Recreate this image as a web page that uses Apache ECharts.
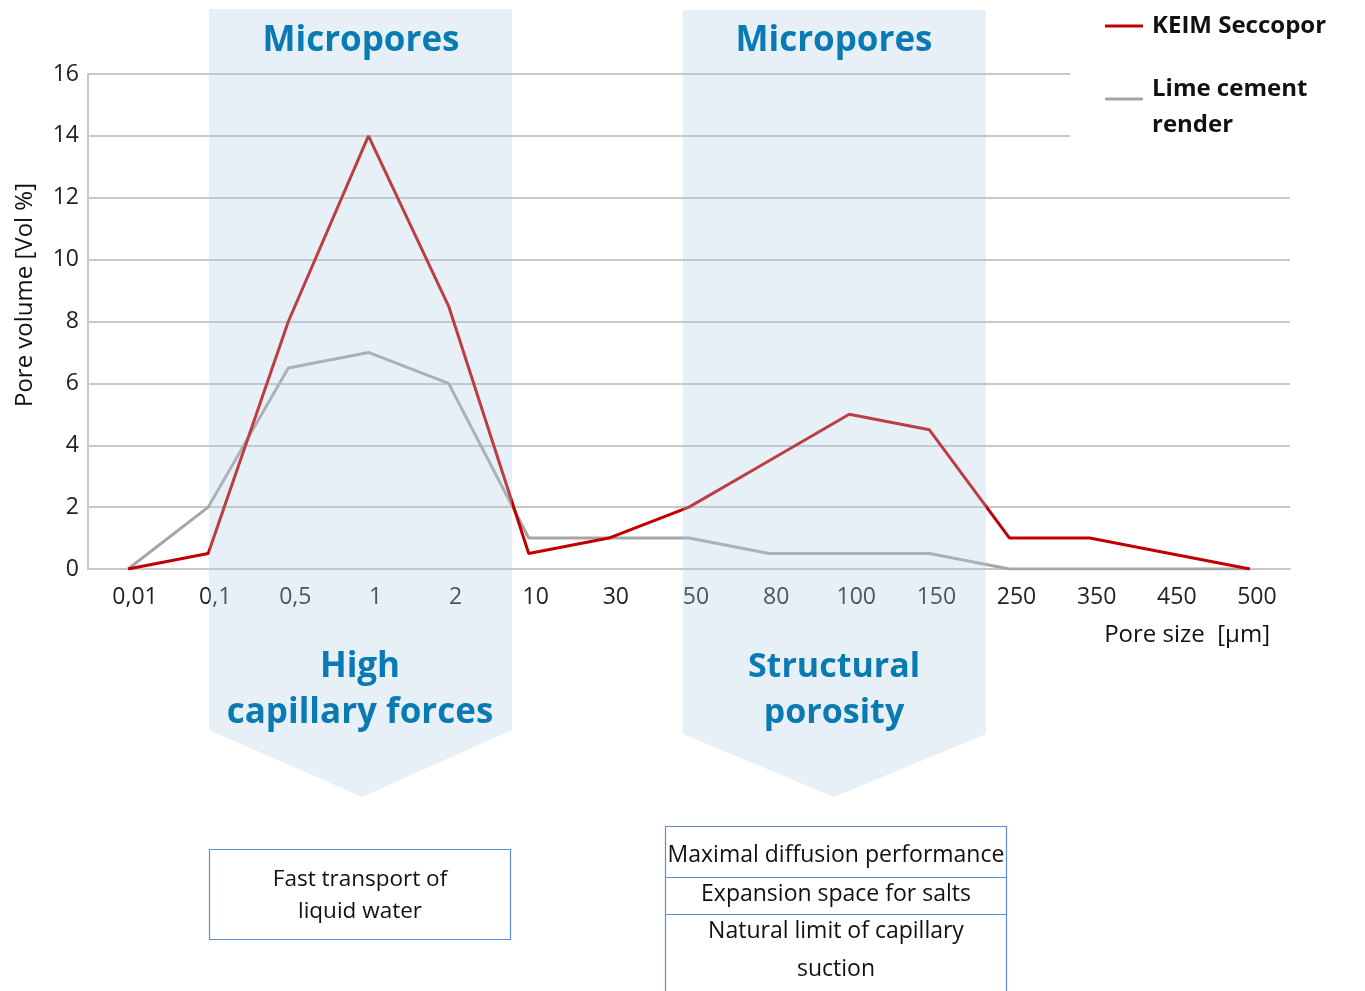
<!DOCTYPE html>
<html>
<head>
<meta charset="utf-8">
<script src="https://cdn.jsdelivr.net/npm/echarts@6/dist/echarts.min.js"></script>
<style>
html,body{margin:0;padding:0;background:#fff;}
#main{width:1365px;height:991px;}
</style>
</head>
<body>
<div id="main"></div>
<script>
const categories = ['0,01','0,1','0,5','1','2','10','30','50','80','100','150','250','350','450','500'];
const keimSeccopor = [0, 0.5, 8, 14, 8.5, 0.5, 1, 2, 3.5, 5, 4.5, 1, 1, 0.5, 0];
const limeCement = [0, 2, 6.5, 7, 6, 1, 1, 1, 0.5, 0.5, 0.5, 0, 0, 0, 0];
const yTicks = [0, 2, 4, 6, 8, 10, 12, 14, 16];

const FONT = '"Open Sans", "Noto Sans", sans-serif';
const BLUE = '#0a7ab3';
const SHADE = 'rgba(180,205,230,0.30)';

const chart = echarts.init(document.getElementById('main'));
chart.setOption({
  backgroundColor: '#fff',
  animation: false,
  textStyle: { fontFamily: FONT },
  grid: { left: 88, right: 75, top: 74, bottom: 422, containLabel: false, outerBoundsMode: 'none' },
  legend: {
    orient: 'vertical',
    left: 1105,
    top: 8,
    padding: 0,
    z: 60,
    icon: 'rect',
    itemWidth: 38,
    itemHeight: 3,
    itemGap: 11,
    data: ['KEIM Seccopor', 'Lime cement render'],
    formatter: function (n) {
      return n === 'Lime cement render' ? '{s| }\n{a|Lime cement}\n{a|render}' : '{a|' + n + '}';
    },
    textStyle: {
      fontFamily: FONT, fontSize: 24, fontWeight: 'bold', color: '#111', lineHeight: 36, padding: [0, 0, 0, 4],
      rich: {
        a: { fontFamily: FONT, fontSize: 24, fontWeight: 'bold', color: '#111', lineHeight: 36 },
        s: { fontSize: 4, lineHeight: 16 }
      }
    }
  },
  xAxis: {
    type: 'category',
    data: categories,
    boundaryGap: true,
    name: 'Pore size  [μm]',
    nameLocation: 'end',
    nameGap: 0,
    nameTextStyle: { fontFamily: FONT, fontSize: 24, color: '#111', align: 'right', verticalAlign: 'top', padding: [54, 20, 0, 0] },
    axisLine: { show: true, lineStyle: { color: '#c8c8c8', width: 2 } },
    axisTick: { show: false },
    axisLabel: { fontFamily: FONT, fontSize: 23, color: '#222', margin: 17, padding: [0, 0, 0, 14] },
    splitLine: { show: false }
  },
  yAxis: {
    type: 'value',
    min: 0,
    max: 16,
    interval: 2,
    axisLine: { show: true, lineStyle: { color: '#c8c8c8', width: 2 } },
    axisTick: { show: false },
    axisLabel: { fontFamily: FONT, fontSize: 23, color: '#222', margin: 9,
      formatter: function (v) { return yTicks.indexOf(v) >= 0 ? String(v) : ''; } },
    splitLine: { show: true, lineStyle: { color: '#c8c8c8', width: 2 } }
  },
  series: [
    {
      name: 'KEIM Seccopor',
      type: 'line',
      data: keimSeccopor,
      symbol: 'none',
      lineStyle: { color: '#c00000', width: 3 },
      itemStyle: { color: '#c00000' },
      z: 3
    },
    {
      name: 'Lime cement render',
      type: 'line',
      data: limeCement,
      symbol: 'none',
      lineStyle: { color: '#a6a6a6', width: 3 },
      itemStyle: { color: '#a6a6a6' },
      z: 2
    }
  ],
  graphic: [
    { type: 'text', z: 45, x: 25, y: 295, rotation: Math.PI / 2, style: { text: 'Pore volume [Vol %]', fontFamily: FONT, fontSize: 24, fill: '#111', align: 'center', verticalAlign: 'middle' } },
    { type: 'rect', z: 50, shape: { x: 1070, y: 0, width: 295, height: 150 }, style: { fill: '#fff' } },
    { type: 'polygon', z: 40, shape: { points: [[209, 9], [512, 9], [512, 730], [362, 797], [209, 730]] }, style: { fill: SHADE } },
    { type: 'polygon', z: 40, shape: { points: [[683, 10], [986, 10], [986, 734], [834, 797], [683, 734]] }, style: { fill: SHADE } },
    { type: 'text', z: 45, x: 361, y: 41, style: { text: 'Micropores', fontFamily: FONT, fontSize: 35, fontWeight: 'bold', fill: BLUE, align: 'center', verticalAlign: 'middle' } },
    { type: 'text', z: 45, x: 834, y: 41, style: { text: 'Micropores', fontFamily: FONT, fontSize: 35, fontWeight: 'bold', fill: BLUE, align: 'center', verticalAlign: 'middle' } },
    { type: 'text', z: 45, x: 360, y: 690, style: { text: 'High\ncapillary forces', fontFamily: FONT, fontSize: 35, fontWeight: 'bold', lineHeight: 46, fill: BLUE, align: 'center', verticalAlign: 'middle' } },
    { type: 'text', z: 45, x: 834, y: 690, style: { text: 'Structural\nporosity', fontFamily: FONT, fontSize: 34, fontWeight: 'bold', lineHeight: 46, fill: BLUE, align: 'center', verticalAlign: 'middle' } },
    { type: 'rect', z: 45, shape: { x: 209.5, y: 849.5, width: 301, height: 90 }, style: { fill: '#fff', stroke: '#5b8ed6', lineWidth: 1.2 } },
    { type: 'text', z: 46, x: 360, y: 896, style: { text: 'Fast transport of\nliquid water', fontFamily: FONT, fontSize: 22.5, lineHeight: 32, fill: '#111', align: 'center', verticalAlign: 'middle' } },
    { type: 'rect', z: 45, shape: { x: 665.5, y: 826.5, width: 341, height: 180 }, style: { fill: '#fff', stroke: '#5b8ed6', lineWidth: 1.2 } },
    { type: 'line', z: 46, shape: { x1: 665.5, y1: 877.5, x2: 1006.5, y2: 877.5 }, style: { stroke: '#5b8ed6', lineWidth: 1.2 } },
    { type: 'line', z: 46, shape: { x1: 665.5, y1: 914.5, x2: 1006.5, y2: 914.5 }, style: { stroke: '#5b8ed6', lineWidth: 1.2 } },
    { type: 'text', z: 46, x: 836, y: 855, style: { text: 'Maximal diffusion performance', fontFamily: FONT, fontSize: 23, fill: '#111', align: 'center', verticalAlign: 'middle' } },
    { type: 'text', z: 46, x: 836, y: 894, style: { text: 'Expansion space for salts', fontFamily: FONT, fontSize: 23, fill: '#111', align: 'center', verticalAlign: 'middle' } },
    { type: 'text', z: 46, x: 836, y: 950, style: { text: 'Natural limit of capillary\nsuction', fontFamily: FONT, fontSize: 23, lineHeight: 38, fill: '#111', align: 'center', verticalAlign: 'middle' } }
  ]
});
</script>
</body>
</html>
